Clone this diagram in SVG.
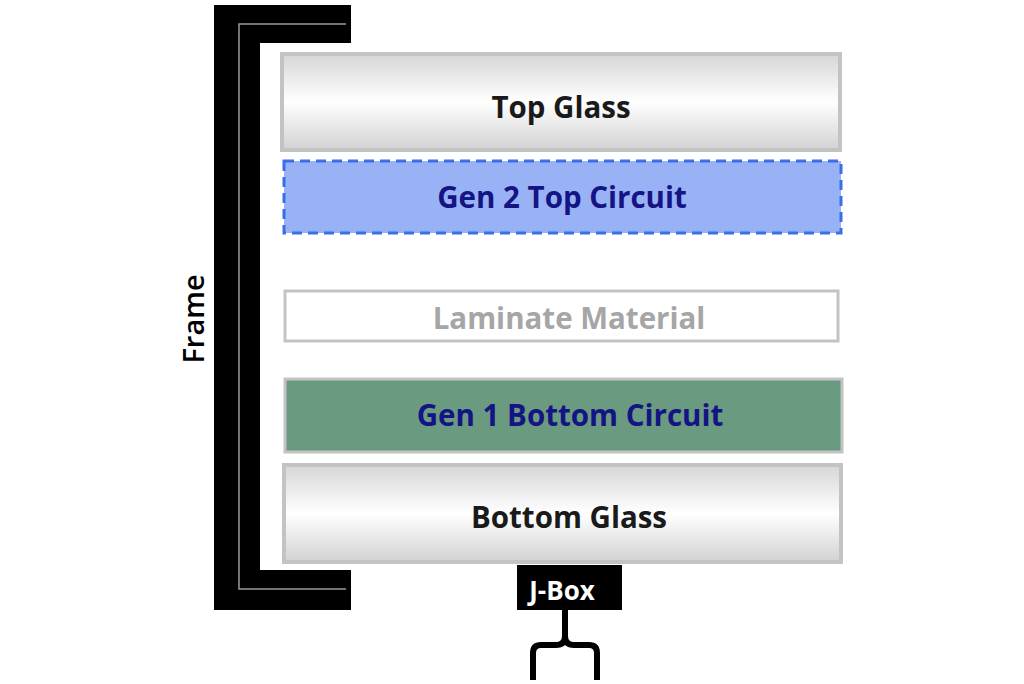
<svg xmlns="http://www.w3.org/2000/svg" width="1024" height="684" viewBox="0 0 1024 684">
<style>
.t{font-family:"Open Sans","Liberation Sans",sans-serif;font-weight:bold;text-anchor:middle;dominant-baseline:central;font-size:29.5px}
.glass{fill:url(#gl);stroke:#c3c3c3;stroke-width:4}
</style>
<defs>
<linearGradient id="gl" x1="0" y1="0" x2="0" y2="1">
<stop offset="0" stop-color="#d6d6d6"/>
<stop offset="0.5" stop-color="#ffffff"/>
<stop offset="1" stop-color="#d2d2d2"/>
</linearGradient>
</defs>
<rect width="1024" height="684" fill="#ffffff"/>
<g id="frame">
<path d="M214,5 H351 V43 H260 V570 H351 V610 H214 Z" fill="#000"/>
<path d="M346,24 H239 V589 H346" fill="none" stroke="#9a9a9a" stroke-width="1.5"/>
<text class="t" transform="translate(192,319) rotate(-90)" style="font-weight:600;font-size:29px" fill="#000">Frame</text>
</g>
<g id="top-glass">
<rect class="glass" x="282" y="54" width="558" height="96"/>
<text class="t" x="561" y="106" fill="#1a1a1a">Top Glass</text>
</g>
<g id="gen2-top-circuit">
<rect x="284" y="161" width="557" height="72" fill="#99b2f6" stroke="#3b6fe6" stroke-width="3" stroke-dasharray="10,6"/>
<text class="t" x="562" y="196" fill="#141485">Gen 2 Top Circuit</text>
</g>
<g id="laminate">
<rect x="285" y="291" width="553" height="50" fill="#ffffff" stroke="#c3c3c3" stroke-width="3"/>
<text class="t" x="569" y="317" fill="#a6a6a6">Laminate Material</text>
</g>
<g id="gen1-bottom-circuit">
<rect x="285" y="379" width="557" height="73" fill="#6a9a80" stroke="#c3c3c3" stroke-width="3"/>
<text class="t" x="570" y="414" fill="#141485">Gen 1 Bottom Circuit</text>
</g>
<g id="bottom-glass">
<rect class="glass" x="284" y="465" width="557" height="97"/>
<text class="t" x="569" y="516" fill="#1a1a1a">Bottom Glass</text>
</g>
<g id="jbox">
<rect x="517" y="565" width="105" height="45" fill="#000"/>
<text class="t" x="562" y="590" style="font-size:26px" fill="#ffffff">J-Box</text>
</g>
<g id="connectors">
<path d="M565,610 V636 Q565,645 556,645 H541 Q533,645 533,653 V680 M565,636 Q565,645 574,645 H589 Q597,645 597,653 V680" fill="none" stroke="#000" stroke-width="6"/>
</g>
</svg>
